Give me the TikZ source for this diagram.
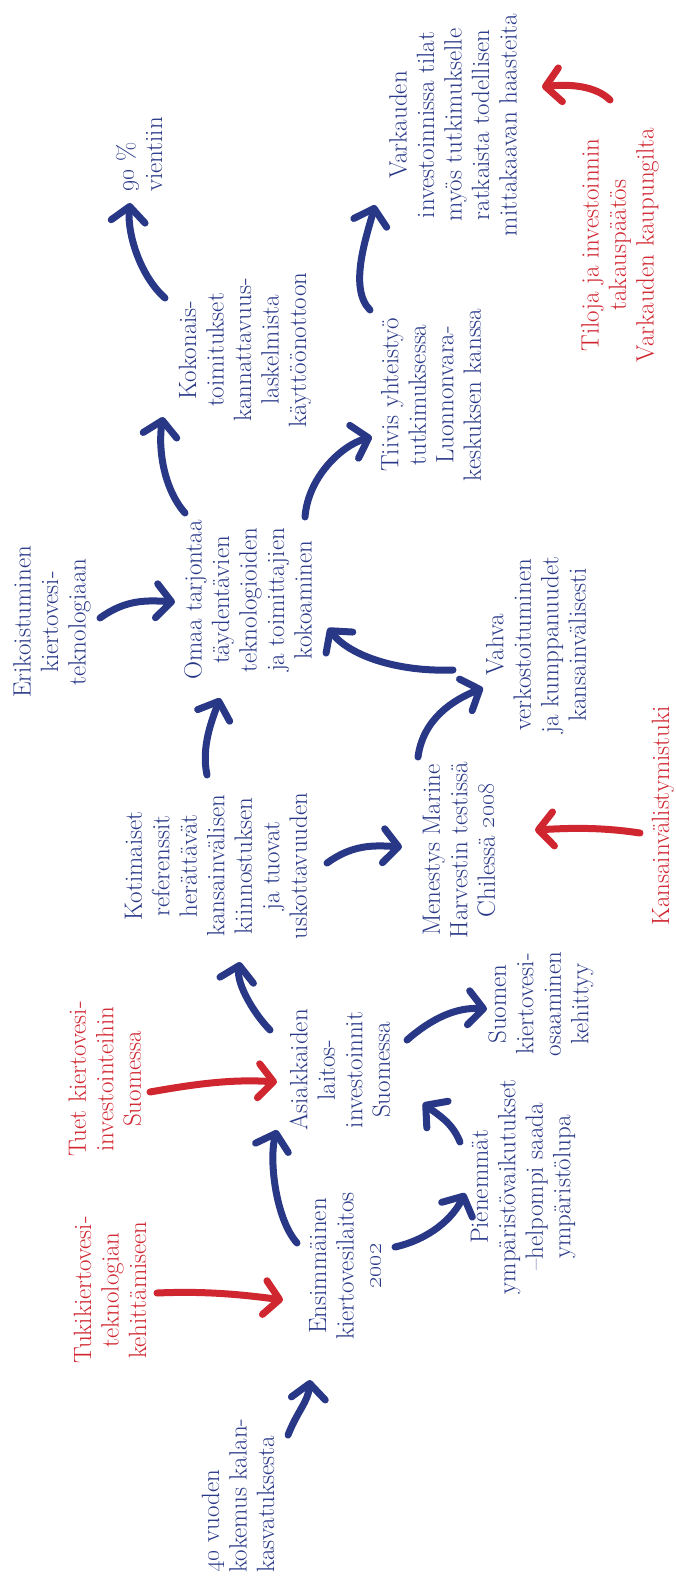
\documentclass[tikz,border=0pt]{standalone}
\usetikzlibrary{arrows.meta}
\definecolor{dblue}{RGB}{40,56,135}
\definecolor{dred}{RGB}{208,38,48}
\tikzset{
  txt/.style={rotate=90, align=center, inner sep=0pt, font=\fontsize{25}{27.5}\selectfont},
  bt/.style={txt, text=dblue},
  rt/.style={txt, text=dred},
  arr/.style={line width=7pt, line cap=round, -{Straight Barb[length=15pt,width=34pt,round]}},
  barr/.style={arr, draw=dblue},
  rarr/.style={arr, draw=dred}
}
\begin{document}
\begin{tikzpicture}[x=1pt,y=-1pt]
\useasboundingbox (0,0) rectangle (676,1577);

% nodes
\node[bt, align=left, anchor=west] (n40) at (238,1573) {\oldstylenums{40} vuoden\\kokemus kalan-\\kasvatuksesta};
\node[rt] (ntuki) at (110,1290) {Tukikiertovesi-\\teknologian\\kehittämiseen};
\node[bt] (nens) at (345,1266) {Ensimmäinen\\kiertovesilaitos\\\oldstylenums{2002}};
\node[rt] (ntuet) at (105,1079) {Tuet kiertovesi-\\investointeihin\\Suomessa};
\node[bt] (nasi) at (340,1070) {Asiakkaiden\\laitos-\\investoinnit\\Suomessa};
\node[bt] (npien) at (523,1187) {Pienemmät\\ympäristövaikutukset\\\textendash helpompi saada\\ympäristölupa};
\node[bt] (nsuo) at (541,1004) {Suomen\\kiertovesi-\\osaaminen\\kehittyy};
\node[bt] (nkot) at (216,866) {Kotimaiset\\referenssit\\herättävät\\kansainvälisen\\kiinnostuksen\\ja tuovat\\uskottavuuden};
\node[bt] (neri) at (52,622) {Erikoistuminen\\kiertovesi-\\teknologiaan};
\node[bt] (nomaa) at (248,600) {Omaa tarjontaa\\täydentävien\\teknologioiden\\ja toimittajien\\kokoaminen};
\node[bt] (nkok) at (245,350) {Kokonais-\\toimitukset\\kannattavuus-\\laskelmista\\käyttöönottoon};
\node[bt, align=left, anchor=west] (n90) at (139,192) {\oldstylenums{90} \%\\vientiin};
\node[bt] (ntii) at (431,395) {Tiivis yhteistyö\\tutkimuksessa\\Luonnonvara-\\keskuksen kanssa};
\node[bt] (nvar) at (453,125) {Varkauden\\investoinnissa tilat\\myös tutkimukselle\\ratkaista todellisen\\mittakaavan haasteita};
\node[rt] (ntil) at (620,245) {Tiloja ja investoinnin\\takauspäätös\\Varkauden kaupungilta};
\node[bt] (nvah) at (536,645) {Vahva\\verkostoituminen\\ja kumppanuudet\\kansainvälisesti};
\node[bt] (nmen) at (459,850) {Menestys Marine\\Harvestin testissä\\Chilessä \oldstylenums{2008}};
\node[rt] (nkans) at (663,816) {Kansainvälistymistuki};

% arrow end points
\coordinate (s1) at (288,1435); \coordinate (e1) at (310,1380);
\coordinate (s2) at (297,1243); \coordinate (e2) at (277,1130);
\coordinate (s3) at (157,1293); \coordinate (e3) at (283,1300);
\coordinate (s4) at (150,1092); \coordinate (e4) at (277,1082);
\coordinate (s5) at (270,1030); \coordinate (e5) at (240,962);
\coordinate (s6) at (395,1247); \coordinate (e6) at (465,1193);
\coordinate (s7) at (460,1142); \coordinate (e7) at (423,1103);
\coordinate (s8) at (407,1040); \coordinate (e8) at (487,1009);
\coordinate (s9) at (207,775);  \coordinate (e9) at (220,698);
\coordinate (s10) at (327,863); \coordinate (e10) at (402,847);
\coordinate (s11) at (100,618); \coordinate (e11) at (175,602);
\coordinate (s12) at (185,513); \coordinate (e12) at (163,417);
\coordinate (s13) at (165,298); \coordinate (e13) at (130,203);
\coordinate (s14) at (305,517); \coordinate (e14) at (372,437);
\coordinate (s15) at (370,310); \coordinate (e15) at (375,205);
\coordinate (s16) at (610,100); \coordinate (e16) at (542,87);
\coordinate (s17) at (453,670); \coordinate (e17) at (328,628);
\coordinate (s18) at (418,757); \coordinate (e18) at (483,688);
\coordinate (s19) at (640,833); \coordinate (e19) at (535,830);

% arrows
\draw[barr] (s1) .. controls +(10,-25) and +(-2,22) .. (e1);
\draw[barr] (s2) .. controls +(-22,-25) and +(-8,28) .. (e2);
\draw[rarr] (s3) .. controls +(45,-2) and +(-45,-6) .. (e3);
\draw[rarr] (s4) .. controls +(45,-8) and +(-45,-3) .. (e4);
\draw[barr] (s5) .. controls +(-15,-15) and +(-4,22) .. (e5);
\draw[barr] (s6) .. controls +(35,-8) and +(-12,25) .. (e6);
\draw[barr] (s7) .. controls +(-8,-20) and +(15,12) .. (e7);
\draw[barr] (s8) .. controls +(25,-22) and +(-30,-2) .. (e8);
\draw[barr] (s9) .. controls +(-6,-28) and +(-8,22) .. (e9);
\draw[barr] (s10) .. controls +(25,-18) and +(-30,-2) .. (e10);
\draw[barr] (s11) .. controls +(25,-18) and +(-30,-2) .. (e11);
\draw[barr] (s12) .. controls +(-22,-25) and +(-5,30) .. (e12);
\draw[barr] (s13) .. controls +(-25,-22) and +(-3,30) .. (e13);
\draw[barr] (s14) .. controls +(3,-40) and +(-30,8) .. (e14);
\draw[barr] (s15) .. controls +(-22,-22) and +(-8,30) .. (e15);
\draw[rarr] (s16) .. controls +(-15,-15) and +(25,-3) .. (e16);
\draw[barr] (s17) .. controls +(-55,2) and +(22,28) .. (e17);
\draw[barr] (s18) .. controls +(5,-38) and +(-30,12) .. (e18);
\draw[rarr] (s19) .. controls +(-40,-6) and +(35,-2) .. (e19);
\end{tikzpicture}
\end{document}
